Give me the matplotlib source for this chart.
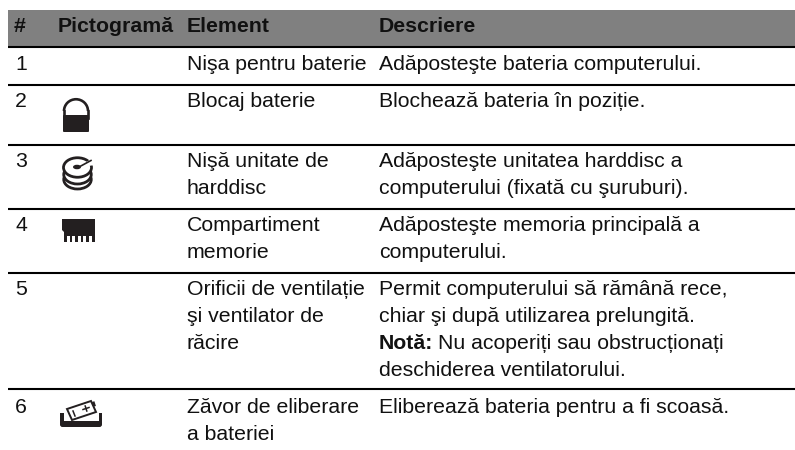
import numpy as np
import matplotlib
matplotlib.use('Agg')
import matplotlib.pyplot as plt
from matplotlib.patches import Rectangle, Wedge, FancyBboxPatch, Polygon, Ellipse, Arc

headers = ['#', 'Pictogramă', 'Element', 'Descriere']
numbers = ['1', '2', '3', '4', '5', '6']
elements = [
    ['Nişa pentru baterie'],
    ['Blocaj baterie'],
    ['Nişă unitate de', 'harddisc'],
    ['Compartiment', 'memorie'],
    ['Orificii de ventilație', 'şi ventilator de', 'răcire'],
    ['Zăvor de eliberare', 'a bateriei'],
]
descriptions = [
    ['Adăposteşte bateria computerului.'],
    ['Blochează bateria în poziție.'],
    ['Adăposteşte unitatea harddisc a', 'computerului (fixată cu şuruburi).'],
    ['Adăposteşte memoria principală a', 'computerului.'],
    ['Permit computerului să rămână rece,', 'chiar şi după utilizarea prelungită.',
     'Nu acoperiți sau obstrucționați', 'deschiderea ventilatorului.'],
    ['Eliberează bateria pentru a fi scoasă.'],
]
note_label = 'Notă:'

# layout in pixels
col_x = [14, 58, 187, 379]
first_baseline = [70, 107, 167, 231, 295, 413]
line_step = 27
rule_y = [47, 85, 145, 209, 273, 389]

plt.rcParams['font.family'] = ['Liberation Sans', 'DejaVu Sans']
fs = 15.3

fig = plt.figure(figsize=(7.95, 4.5), dpi=100)
ax = fig.add_axes([0, 0, 1, 1])
ax.set_xlim(0, 795)
ax.set_ylim(450, 0)
ax.axis('off')

ax.add_patch(Rectangle((8, 10), 787, 36, fc='#808080', ec='none'))
for y in rule_y:
    ax.plot([8, 795], [y, y], color='black', lw=1.5, solid_capstyle='butt')

for x, h in zip(col_x, headers):
    ax.text(x, 32, h, fontsize=fs, fontweight='bold', color='#111111', va='baseline')

for i in range(len(numbers)):
    y0 = first_baseline[i]
    ax.text(col_x[0] + 1, y0, numbers[i], fontsize=fs, color='#111111', va='baseline')
    for j, s in enumerate(elements[i]):
        ax.text(col_x[2], y0 + j * line_step, s, fontsize=fs, color='#111111', va='baseline')
    for j, s in enumerate(descriptions[i]):
        x = col_x[3]
        if s.startswith('Nu acoperiți'):
            t = ax.text(x, y0 + j * line_step, note_label, fontsize=fs, fontweight='bold',
                        color='#111111', va='baseline')
            fig.canvas.draw()
            x = t.get_window_extent().x1 + 5
        ax.text(x, y0 + j * line_step, s, fontsize=fs, color='#111111', va='baseline')

ink = '#231f20'

# lock icon
ax.add_patch(FancyBboxPatch((63, 115), 26, 17, boxstyle='round,pad=0,rounding_size=1', fc=ink, ec='none'))
ax.add_patch(Arc((76, 111), 24, 23.5, theta1=180, theta2=360, ec=ink, lw=1.9))
ax.plot([64, 64], [111, 118], color=ink, lw=1.9)
ax.plot([88, 88], [111, 118], color=ink, lw=1.9)

# disc icon
for yc in [179.5, 174.5]:
    ax.add_patch(Ellipse((77.5, yc), 27.5, 19, fc='white', ec=ink, lw=2))
ax.add_patch(Ellipse((77.5, 167.5), 28, 19.5, fc='white', ec=ink, lw=2))
ax.add_patch(Wedge((77.5, 167.5), 17, -32, -8, fc='white', ec='none'))
ax.plot([79, 91], [167, 160.5], color=ink, lw=1.2)
ax.add_patch(Ellipse((77, 167), 8, 4.5, fc=ink, ec='none'))

# memory icon
ax.add_patch(Polygon([(62, 219), (95, 219), (95, 242), (64, 242), (64, 232), (62, 230)], closed=True, fc=ink, ec='none'))
for x in np.arange(67, 92, 5.4):
    ax.add_patch(Rectangle((x, 235.5), 3, 7, fc='white', ec='none'))

# battery release icon
ax.add_patch(Polygon([(67, 409), (91, 401), (96, 412), (72, 420)], closed=True, fc='white', ec=ink, lw=1.4))
ax.add_patch(Rectangle((92, 402), 2.5, 5, angle=-18, fc=ink, ec='none'))
ax.plot([73, 75], [411, 416], color=ink, lw=1.1)
ax.plot([83, 89], [409.5, 407.5], color=ink, lw=1.1)
ax.plot([85.2, 86.8], [406, 411], color=ink, lw=1.1)
ax.add_patch(FancyBboxPatch((60, 421), 42, 6, boxstyle='round,pad=0,rounding_size=2.5', fc=ink, ec='none'))
ax.add_patch(Rectangle((60, 413), 3.5, 11, fc=ink, ec='none'))
ax.add_patch(Rectangle((98.5, 413), 3.5, 11, fc=ink, ec='none'))

fig.savefig('out.png', dpi=100)
